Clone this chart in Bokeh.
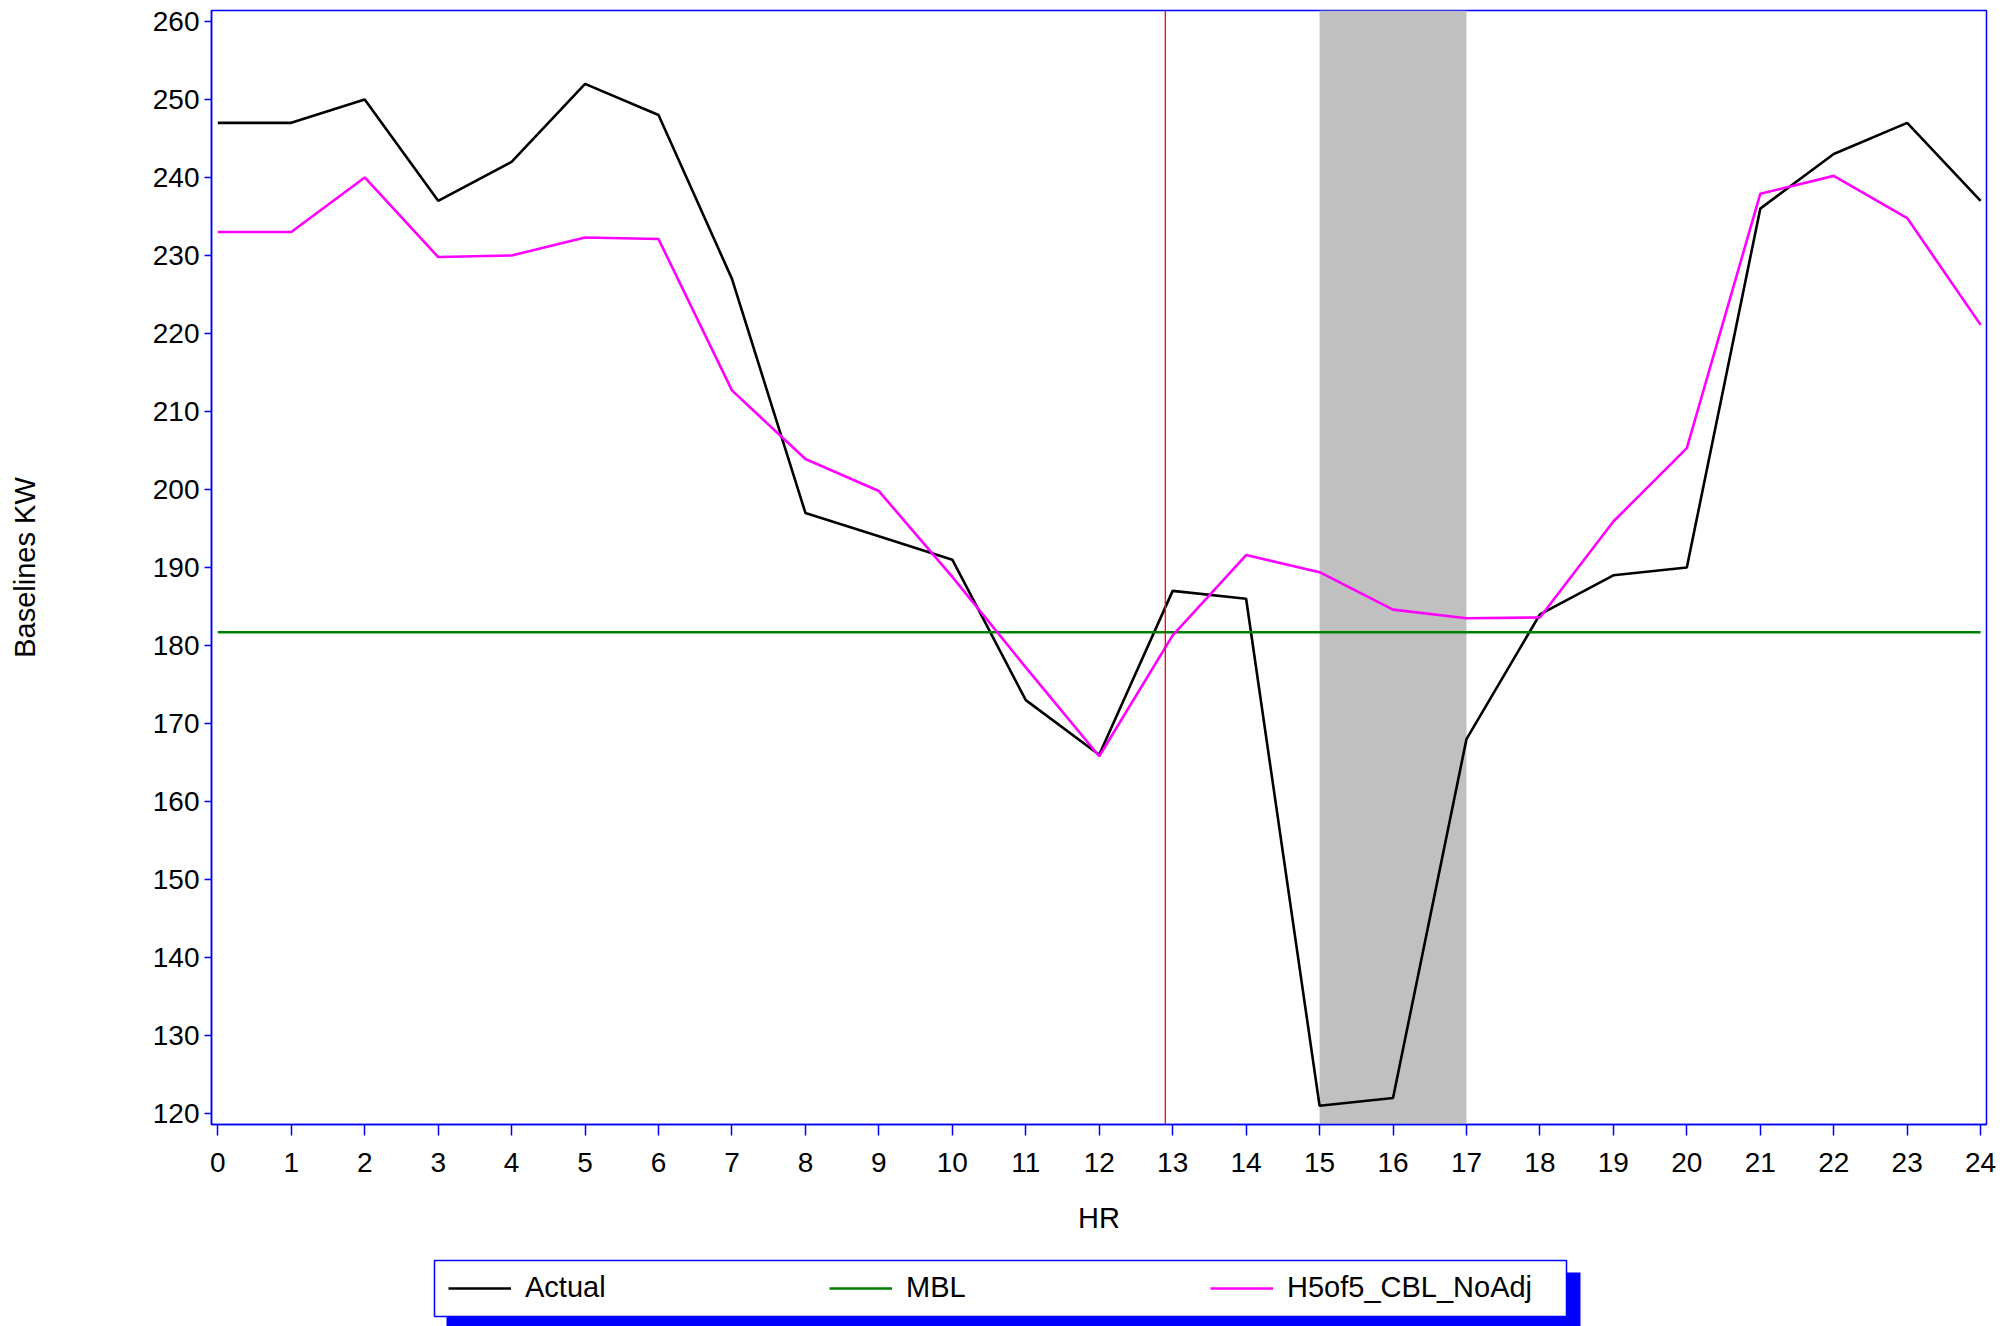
from bokeh.plotting import figure
from bokeh.models import Range1d, FixedTicker, BoxAnnotation, Span, Legend, LegendItem
from bokeh.layouts import column
from bokeh.embed import file_html
from bokeh.resources import INLINE

# ---- data ----
hours = list(range(25))
actual = [247, 247, 250, 237, 242, 252, 248, 227, 197, 194, 191, 173, 166,
          187, 186, 121, 122, 168, 184, 189, 190, 236, 243, 247, 237]
h5of5_cbl = [233, 233, 240, 229.8, 230, 232.3, 232.1, 212.7, 203.9, 199.8, 188.8,
             177.2, 165.8, 181.3, 191.6, 189.4, 184.6, 183.5, 183.6, 195.9, 205.3,
             237.9, 240.2, 234.8, 221.1]
mbl = 181.7
event_marker_hr = 12.9
event_window = [15, 17]
x_ticks = list(range(0, 25))
y_ticks = list(range(120, 261, 10))
series_names = ["Actual", "MBL", "H5of5_CBL_NoAdj"]
series_colors = ["#000000", "#008000", "#FF00FF"]

FONT = "Liberation Sans"
BLUE = "#0000FF"
FIG_W = 2016
MAIN_H = 1250
LEG_H = 1326 - MAIN_H
BL, BR = 211, 30

p = figure(width=FIG_W, height=MAIN_H,
           x_range=Range1d(-0.086, 24.08), y_range=Range1d(118.6, 261.4),
           output_backend="svg", toolbar_location=None,
           min_border_left=BL, min_border_right=BR, min_border_top=10,
           min_border_bottom=MAIN_H - 1124,
           x_axis_label="HR", y_axis_label="Baselines KW")

p.xgrid.visible = False
p.ygrid.visible = False
p.outline_line_color = BLUE
p.outline_line_width = 1.5

p.add_layout(BoxAnnotation(left=event_window[0], right=event_window[1],
                           fill_color="#C0C0C0", fill_alpha=1.0,
                           line_alpha=0, level="underlay"))

p.line(hours, actual, line_color=series_colors[0], line_width=2.6)
p.segment(x0=hours[0], y0=mbl, x1=hours[-1], y1=mbl,
          line_color=series_colors[1], line_width=2.6)
p.line(hours, h5of5_cbl, line_color=series_colors[2], line_width=2.6)

p.add_layout(Span(location=event_marker_hr, dimension="height",
                  line_color="#FF0000", line_width=1.3))

p.xaxis[0].ticker = FixedTicker(ticks=x_ticks)
p.yaxis[0].ticker = FixedTicker(ticks=y_ticks)

for ax in (p.xaxis[0], p.yaxis[0]):
    ax.axis_line_color = BLUE
    ax.axis_line_width = 1.5
    ax.major_tick_line_color = BLUE
    ax.major_tick_line_width = 1.5
    ax.minor_tick_line_color = None
    ax.major_tick_in = 0
    ax.major_label_text_font = FONT
    ax.major_label_text_font_size = "28px"
    ax.major_label_text_color = "black"
    ax.axis_label_text_font = FONT
    ax.axis_label_text_font_size = "29px"
    ax.axis_label_text_font_style = "normal"
    ax.axis_label_text_color = "black"

p.xaxis[0].major_tick_out = 11
p.xaxis[0].major_label_standoff = 17
p.xaxis[0].axis_label_standoff = 27
p.yaxis[0].major_tick_out = 7
p.yaxis[0].major_label_standoff = 5
p.yaxis[0].axis_label_standoff = 109

# ---- legend panel (data units = page pixels) ----
leg = figure(width=FIG_W, height=LEG_H,
             x_range=Range1d(BL, FIG_W - BR), y_range=Range1d(LEG_H, 0),
             output_backend="svg", toolbar_location=None,
             x_axis_location=None, y_axis_location=None,
             min_border_left=BL, min_border_right=BR,
             min_border_top=0, min_border_bottom=0)
leg.grid.visible = False
leg.outline_line_color = None

top0 = MAIN_H
leg.quad(left=446, right=1580, top=1272 - top0, bottom=LEG_H,
         fill_color=BLUE, line_color=None)
leg.quad(left=434, right=1566, top=1260 - top0, bottom=1316 - top0,
         fill_color="white", line_color=BLUE, line_width=1.5)

items = []
for name, col in zip(series_names, series_colors):
    r = leg.line(x=[-1000, -999], y=[-1000, -1000], line_color=col, line_width=2.6)
    items.append(LegendItem(label=name, renderers=[r]))

legend = Legend(items=items, orientation="horizontal",
                location=(448 - BL, LEG_H - (1289 - top0) - 15),
                glyph_width=63, glyph_height=30, label_standoff=14,
                label_width=304, label_height=30, spacing=0, padding=0,
                margin=0, border_line_alpha=0, background_fill_alpha=0,
                label_text_font=FONT, label_text_font_size="29px",
                label_text_color="black")
leg.add_layout(legend)

layout = column(p, leg, spacing=0)
open("out.html", "w").write(file_html(layout, INLINE))
